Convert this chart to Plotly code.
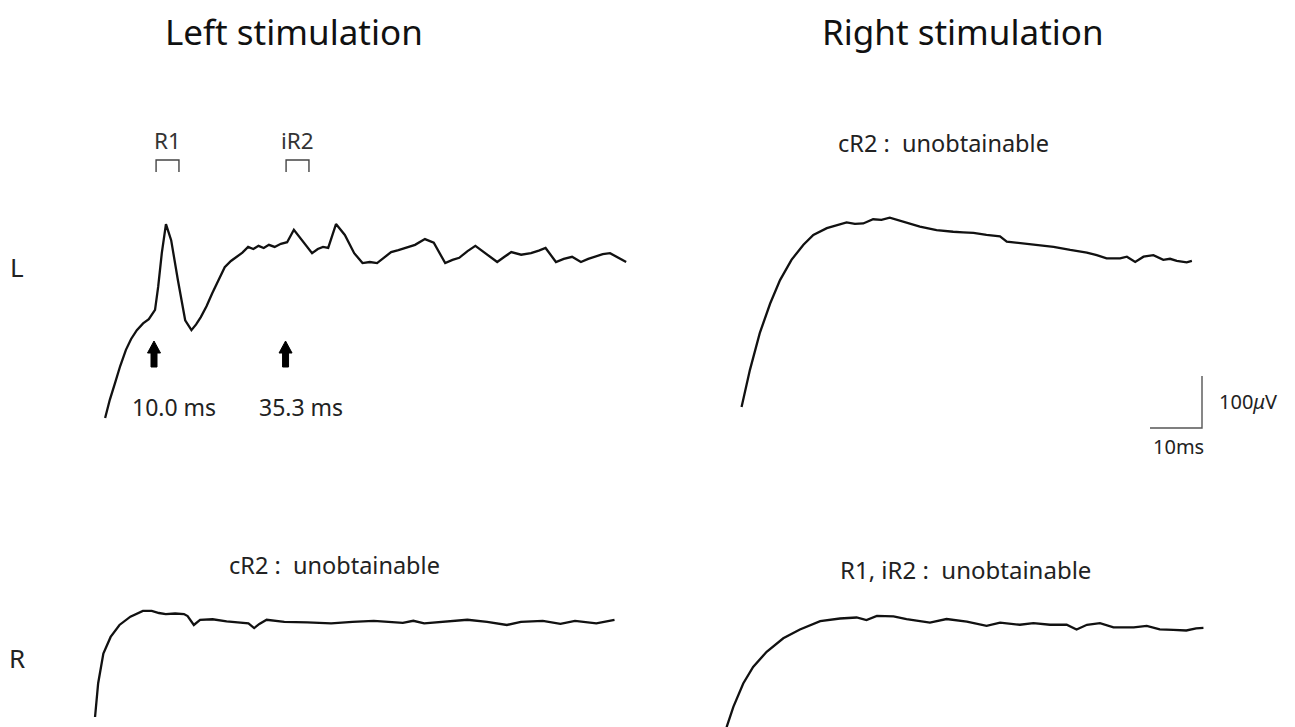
import plotly.graph_objects as go

# ---------------- data (time in ms, amplitude in µV) ----------------
# Left stimulation, recorded from L (ipsilateral)
tl_t = [0.6, 1.5, 2.5, 3.5, 4.6, 5.6, 6.7, 7.9, 9.0, 10.2, 10.8, 11.5, 12.3, 13.3, 14.6, 16.0,
        17.2, 18.1, 19.0, 20.1, 21.2, 22.4, 23.6, 24.8, 26.0, 27.0, 28.1, 29.1, 30.1, 31.1, 32.1,
        33.2, 34.4, 35.6, 36.9, 38.7, 40.4, 41.5, 42.5, 43.5, 45.0, 46.7, 48.5, 50.1, 51.5, 52.9,
        54.2, 55.6, 57.0, 58.4, 60.2, 62.1, 63.8, 66.0, 67.4, 68.7, 70.3, 71.8, 73.6, 76.0, 77.4,
        78.7, 80.6, 82.5, 84.0, 85.3, 87.3, 88.8, 90.4, 92.1, 93.5, 94.9, 96.3, 97.7, 99.0, 100.8]
tl_v = [0, 35, 67, 100, 131, 152, 169, 182, 190, 208, 252, 317, 373, 342, 265, 188,
        169, 180, 194, 215, 240, 266, 290, 302, 310, 318, 329, 325, 331, 327, 333,
        329, 335, 338, 362, 338, 317, 325, 329, 327, 373, 352, 317, 298, 300, 298,
        308, 319, 323, 327, 333, 344, 337, 298, 304, 308, 321, 331, 317, 300, 310,
        319, 314, 317, 322, 327, 300, 306, 310, 300, 306, 310, 315, 317, 310, 300]

# Right stimulation, recorded from L (contralateral)
tr_t = [0.3, 1.9, 3.8, 5.8, 7.7, 9.9, 12.2, 14.1, 16.7, 18.6, 20.5, 22.1, 23.7, 25.6, 27.2,
        28.8, 30.1, 31.4, 34.6, 37.8, 39.4, 41.0, 42.9, 44.9, 47.4, 50.0, 51.3, 53.8, 55.5,
        57.1, 60.3, 63.5, 66.7, 68.6, 70.5, 73.1, 74.4, 76.0, 77.6, 79.5, 81.4, 82.7, 84.0,
        85.9, 86.9]
tr_v = [0, 71, 142, 199, 244, 283, 312, 331, 344, 350, 355, 352, 353, 361, 360,
        364, 360, 356, 347, 340, 338, 337, 336, 335, 331, 328, 318, 315, 313,
        312, 308, 302, 297, 292, 286, 286, 289, 279, 289, 292, 283, 285, 281,
        278, 281]

# Left stimulation, recorded from R (contralateral)
bl_t = [0.2, 0.8, 1.8, 3.2, 4.9, 7.0, 9.4, 11.1, 12.5, 13.8, 15.6, 17.3, 18.0, 19.2, 20.4,
        22.8, 25.5, 28.3, 29.7, 30.8, 31.8, 33.2, 36.6, 41.0, 45.6, 49.7, 53.8, 59.4, 61.4,
        63.5, 67.6, 71.8, 75.6, 79.4, 82.1, 86.3, 89.7, 92.5, 96.6, 100.1]
bl_v = [0, 65, 122, 154, 177, 193, 204, 204, 200, 198, 199, 198, 194, 177, 187,
        188, 184, 181, 180, 171, 179, 187, 183, 182, 180, 183, 185, 181, 185,
        180, 183, 187, 183, 177, 183, 185, 179, 185, 180, 187]

# Right stimulation, recorded from R (ipsilateral)
br_t = [0.5, 1.8, 3.7, 5.6, 8.2, 11.4, 14.6, 18.5, 22.3, 25.5, 27.4, 29.4, 32.6, 35.1,
        39.6, 42.8, 46.7, 50.5, 53.1, 56.9, 59.5, 62.7, 65.9, 67.8, 69.8, 72.3, 74.9,
        78.8, 81.3, 83.8, 86.4, 88.9, 90.8, 92.2]
br_v = [15, 54, 99, 131, 160, 186, 203, 219, 224, 226, 221, 229, 228, 223,
        216, 223, 218, 210, 216, 212, 215, 212, 212, 203, 212, 215, 207,
        207, 210, 203, 202, 201, 205, 206]

latency_ms = [10.0, 35.3]          # marked onset latencies (R1, iR2)
latency_labels = ["10.0 ms", "35.3 ms"]
window_ms = {"R1": [10.4, 14.8], "iR2": [35.4, 39.8]}  # brackets above L trace
scale_ms = [10]                    # calibration bar
scale_uv = [100]

# ---------------- layout geometry (screen pixels) ----------------
OFF = 8                       # page body margin
FW, FH = 1295 - OFF, 727 - OFF
KX, KY = 5.2, 0.52            # px per ms, px per µV

def px_x(x):
    return (x - OFF) / FW

def px_y(y):
    return 1 - (y - OFF) / FH

panels = {
    # name: (x domain px, y domain px (top, bottom), origin px (x, y))
    "TL": ((80, 650), (110, 450), (102, 418)),
    "TR": ((700, 1240), (110, 460), (740, 407)),
    "BL": ((60, 650), (590, 727), (94, 717)),
    "BR": ((700, 1240), (590, 727), (724, 735)),
}
label_px_x = [174, 301]       # centres of latency labels

fig = go.Figure()
axis_ids = {"TL": "", "TR": "2", "BL": "3", "BR": "4"}
data = {"TL": (tl_t, tl_v), "TR": (tr_t, tr_v), "BL": (bl_t, bl_v), "BR": (br_t, br_v)}
LINE = dict(color="#111111", width=2.3)

for name, ((a, b), (c, d), (ox, oy)) in panels.items():
    sid = axis_ids[name]
    t, v = data[name]
    fig.add_trace(go.Scatter(x=t, y=v, mode="lines", line=LINE, showlegend=False,
                             hoverinfo="skip", xaxis="x" + sid, yaxis="y" + sid))
    fig.update_layout(**{
        "xaxis" + sid: dict(domain=[px_x(a), px_x(b)], range=[(a - ox) / KX, (b - ox) / KX],
                            visible=False, fixedrange=True, anchor="y" + sid),
        "yaxis" + sid: dict(domain=[px_y(d), px_y(c)], range=[(oy - d) / KY, (oy - c) / KY],
                            visible=False, fixedrange=True, anchor="x" + sid),
    })

TL_ORIG = panels["TL"][2]

def v_of(ypx, oy):
    return (oy - ypx) / KY

# brackets for R1 / iR2 windows (in TL axes)
br_top = v_of(160, TL_ORIG[1])
br_bot = v_of(172, TL_ORIG[1])
for key, (t0, t1) in window_ms.items():
    fig.add_trace(go.Scatter(x=[t0, t0, t1, t1], y=[br_bot, br_top, br_top, br_bot],
                             mode="lines", line=dict(color="#444444", width=1.4),
                             showlegend=False, hoverinfo="skip"))
    fig.add_annotation(x=(t0 + t1) / 2, y=v_of(140, TL_ORIG[1]), xref="x", yref="y",
                       text=key, showarrow=False,
                       font=dict(size=22.5, color="#333333", family="Noto Sans"))

# latency arrows (filled block arrows) and labels
head_w, shaft_w = 6.5 / KX, 3.0 / KX        # half widths in ms
head_h, total_h = 12 / KY, 26 / KY          # heights in µV
for lat, lab, lx in zip(latency_ms, latency_labels, label_px_x):
    vt = v_of(341, TL_ORIG[1])
    path = (f"M {lat},{vt} L {lat + head_w},{vt - head_h} L {lat + shaft_w},{vt - head_h} "
            f"L {lat + shaft_w},{vt - total_h} L {lat - shaft_w},{vt - total_h} "
            f"L {lat - shaft_w},{vt - head_h} L {lat - head_w},{vt - head_h} Z")
    fig.add_shape(type="path", path=path, xref="x", yref="y",
                  fillcolor="#000000", line=dict(color="#000000", width=1))
    fig.add_annotation(x=(lx - TL_ORIG[0]) / KX, y=v_of(407, TL_ORIG[1]), xref="x", yref="y",
                       text=lab, showarrow=False,
                       font=dict(size=23, color="#222222", family="Noto Sans"))

# calibration bar (TR axes)
TR_ORIG = panels["TR"][2]
tc = (1202 - TR_ORIG[0]) / KX
vc = v_of(428, TR_ORIG[1])
fig.add_trace(go.Scatter(x=[tc - scale_ms[0], tc, tc], y=[vc, vc, vc + scale_uv[0]],
                         mode="lines", line=dict(color="#555555", width=1.4),
                         showlegend=False, hoverinfo="skip", xaxis="x2", yaxis="y2"))

# ---------------- text ----------------
def txt(xpx, ypx, s, size, color="#222222", anchor="center"):
    fig.add_annotation(x=px_x(xpx), y=px_y(ypx), xref="paper", yref="paper", text=s,
                       showarrow=False, xanchor=anchor, yanchor="middle",
                       font=dict(size=size, color=color, family="Noto Sans"))

txt(294, 31, "Left stimulation", 35, "#111111")
txt(963, 31, "Right stimulation", 35, "#111111")
txt(17, 267, "L", 26)
txt(17, 658, "R", 26)
txt(943, 143, "cR2 :  unobtainable", 23.5)
txt(334, 565, "cR2 :  unobtainable", 23.5)
txt(965, 569, "R1, iR2 :  unobtainable", 24)
txt(1217, 401, "100<i>μ</i>V", 20, anchor="left")
txt(1178, 447, "10ms", 20)

fig.update_layout(width=FW, height=FH, margin=dict(l=0, r=0, t=0, b=0),
                  paper_bgcolor="white", plot_bgcolor="white", showlegend=False)

fig.write_html("out.html")
